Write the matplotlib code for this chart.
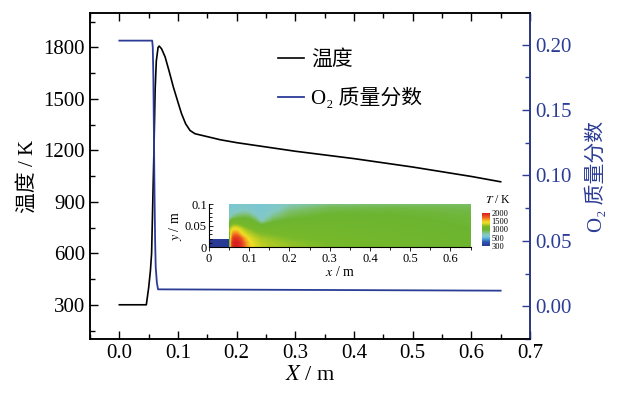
import numpy as np
import matplotlib
matplotlib.use("Agg")
import matplotlib.pyplot as plt
from matplotlib.colors import LinearSegmentedColormap, FuncNorm
from matplotlib.ticker import MultipleLocator

plt.rcParams['font.family'] = ['Liberation Serif', 'DejaVu Serif', 'Noto Sans CJK SC']
plt.rcParams['mathtext.fontset'] = 'stix'

######### data #########
# centreline temperature, K
x_T = [0.0, 0.046, 0.050, 0.053, 0.055, 0.057, 0.059, 0.061, 0.063, 0.066, 0.068,
       0.072, 0.078, 0.085, 0.092, 0.100, 0.106, 0.113, 0.1205, 0.129, 0.150,
       0.172, 0.200, 0.300, 0.400, 0.500, 0.600, 0.650]
T = [300, 300, 400, 500, 600, 900, 1200, 1550, 1720, 1800, 1808,
     1792, 1745, 1660, 1570, 1480, 1414, 1355, 1316, 1297, 1280,
     1262, 1245, 1195, 1152, 1103, 1048, 1017]
# O2 mass fraction
x_O2 = [0.0, 0.056, 0.057, 0.058, 0.059, 0.060, 0.061, 0.062, 0.064, 0.066, 0.650]
O2 = [0.203, 0.203, 0.198, 0.175, 0.130, 0.085, 0.050, 0.030, 0.018, 0.013, 0.012]

# inset temperature field (K) on a coarse grid, rows = y, columns = x
field_x = [0.05, 0.052, 0.055, 0.06, 0.065, 0.07, 0.075, 0.08, 0.085, 0.09,
           0.1, 0.115, 0.13, 0.16, 0.2, 0.3, 0.45, 0.65]
field_y = [0.0, 0.01, 0.02, 0.03, 0.04, 0.05, 0.06, 0.07, 0.08, 0.09, 0.1]
field_T = [
    [300, 800, 1650, 1950, 2000, 2000, 1950, 1870, 1780, 1680, 1500, 1380, 1320, 1280, 1250, 1200, 1130, 1030],
    [300, 850, 1650, 1950, 2000, 2000, 1950, 1860, 1760, 1650, 1480, 1360, 1300, 1270, 1240, 1190, 1120, 1030],
    [500, 900, 1550, 1850, 1920, 1900, 1850, 1750, 1650, 1550, 1400, 1310, 1270, 1240, 1210, 1170, 1110, 1020],
    [1000, 1150, 1450, 1650, 1700, 1680, 1600, 1500, 1420, 1370, 1300, 1250, 1220, 1200, 1180, 1140, 1090, 1010],
    [1150, 1250, 1350, 1450, 1480, 1460, 1400, 1350, 1300, 1270, 1230, 1190, 1170, 1150, 1130, 1110, 1070, 1000],
    [1100, 1150, 1200, 1250, 1260, 1250, 1230, 1210, 1190, 1170, 1140, 1100, 1000, 1080, 1090, 1080, 1050, 990],
    [800, 900, 1000, 1100, 1120, 1120, 1110, 1100, 1090, 1080, 1060, 950, 700, 950, 1030, 1050, 1030, 980],
    [650, 680, 720, 800, 850, 880, 900, 920, 930, 930, 900, 750, 620, 800, 950, 1020, 1010, 970],
    [600, 610, 630, 650, 680, 700, 720, 740, 750, 750, 720, 640, 600, 700, 870, 980, 990, 960],
    [580, 580, 590, 600, 610, 620, 630, 640, 650, 650, 630, 600, 580, 640, 780, 920, 950, 930],
    [560, 560, 560, 570, 570, 580, 580, 590, 590, 590, 580, 570, 560, 600, 700, 800, 840, 860],
]
inlet_x = [0.0, 0.05]
inlet_y = [0.0, 0.0185]
inlet_T = [[300]]

cbar_ticks = [300, 500, 1000, 1500, 2000]
##############################################

blue = '#2b3c96'

fig = plt.figure(figsize=(6.37, 3.98), dpi=100)
ax = fig.add_axes([0.1413, 0.148, 0.6907, 0.819])
ax2 = ax.twinx()

l1, = ax.plot(x_T, T, color='black', lw=1.2, label='温度')
l2, = ax2.plot(x_O2, O2, color=blue, lw=1.3, label='O₂ 质量分数')

ax.set_xlim(-0.05, 0.7)
ax.set_ylim(100, 2000)
ax2.set_ylim(-0.025, 0.224)

ax.xaxis.set_minor_locator(MultipleLocator(0.05))
ax.yaxis.set_minor_locator(MultipleLocator(150))
ax2.yaxis.set_minor_locator(MultipleLocator(0.025))
ax.set_xticks([0, 0.1, 0.2, 0.3, 0.4, 0.5, 0.6, 0.7])
ax.set_xticklabels(['0.0', '0.1', '0.2', '0.3', '0.4', '0.5', '0.6', '0.7'])
ax.set_yticks([300, 600, 900, 1200, 1500, 1800])
ax2.set_yticks([0, 0.05, 0.10, 0.15, 0.20])
ax2.set_yticklabels(['0.00', '0.05', '0.10', '0.15', '0.20'])

ax.tick_params(which='both', direction='in', top=True, right=False, labelsize=15, width=1.0)
ax.tick_params(which='major', length=6)
ax.tick_params(which='minor', length=3.5)
ax2.tick_params(which='both', direction='in', colors=blue, labelsize=15, width=1.0)
ax2.tick_params(which='major', length=6)
ax2.tick_params(which='minor', length=3.5)
for s in ax.spines.values():
    s.set_linewidth(1.1)
for s in ax2.spines.values():
    s.set_linewidth(1.1)
ax2.spines['right'].set_color(blue)

ax.set_xlabel('$X$ / m', fontsize=16, labelpad=2)
ax.set_ylabel('温度 / K', fontsize=15, labelpad=4)
ax2.set_ylabel('O₂ 质量分数', fontsize=15, color=blue, labelpad=10)

fig.legend([l1, l2], [l1.get_label(), l2.get_label()], loc='upper left',
           bbox_to_anchor=(278 / 637, 1 - 50 / 398), bbox_transform=fig.transFigure,
           frameon=False, fontsize=15, handlelength=1.25, handletextpad=0.35,
           borderpad=0, borderaxespad=0, labelspacing=0.85)

#### inset temperature field ####
cmap = LinearSegmentedColormap.from_list('tec', [
    (0.00, '#283a94'), (0.12, '#2f55ae'), (0.21, '#4a9ed6'), (0.27, '#78c6d6'),
    (0.35, '#84c8c0'), (0.43, '#7cbe6a'), (0.50, '#6cb430'), (0.60, '#76b82a'),
    (0.66, '#c4d022'), (0.72, '#f0e024'), (0.80, '#f4a222'), (0.88, '#ec5a20'),
    (1.00, '#d81e1e')])
knots_T = [300, 500, 1000, 1500, 2000]
knots_n = [0.0, 0.25, 0.5, 0.75, 1.0]
norm = FuncNorm((lambda v: np.interp(v, knots_T, knots_n),
                 lambda n: np.interp(n, knots_n, knots_T)), vmin=300, vmax=2000)

axi = fig.add_axes([209 / 637, 1 - 247.3 / 398, 261.5 / 637, 43.3 / 398])
axi.set_facecolor('none')
axi.contourf(field_x, field_y, field_T, levels=np.linspace(300, 2000, 150), cmap=cmap, norm=norm)
axi.pcolormesh(inlet_x, inlet_y, inlet_T, cmap=cmap, norm=norm)
axi.set_xlim(0, 0.65)
axi.set_ylim(0, 0.1)
axi.spines['top'].set_visible(False)
axi.spines['right'].set_visible(False)
for s in ['left', 'bottom']:
    axi.spines[s].set_linewidth(0.8)
axi.set_xticks([0, 0.1, 0.2, 0.3, 0.4, 0.5, 0.6])
axi.set_xticklabels(['0', '0.1', '0.2', '0.3', '0.4', '0.5', '0.6'])
axi.xaxis.set_minor_locator(MultipleLocator(0.05))
axi.set_yticks([0, 0.05, 0.1])
axi.set_yticklabels(['0', '0.05', '0.1'])
axi.yaxis.set_minor_locator(MultipleLocator(0.01))
axi.tick_params(axis='x', which='both', direction='out', labelsize=9, pad=1, width=0.6)
axi.tick_params(axis='y', which='both', direction='in', labelsize=9, pad=1.5, width=0.6)
axi.tick_params(which='major', length=3)
axi.tick_params(which='minor', length=2)
axi.set_xlabel('$x$ / m', fontsize=10, labelpad=0)
axi.set_ylabel('$y$ / m', fontsize=10, labelpad=1)

cax = fig.add_axes([482 / 637, 1 - 246 / 398, 8 / 637, 33 / 398])
sm = plt.cm.ScalarMappable(norm=norm, cmap=cmap)
cb = fig.colorbar(sm, cax=cax, ticks=cbar_ticks)
cb.outline.set_visible(False)
cb.ax.tick_params(labelsize=6, length=0, pad=0.8)
cax.text(2.0, 1.22, '$T$ / K', transform=cax.transAxes, ha='center', va='bottom', fontsize=8.5)

fig.savefig('out.png', dpi=100)
